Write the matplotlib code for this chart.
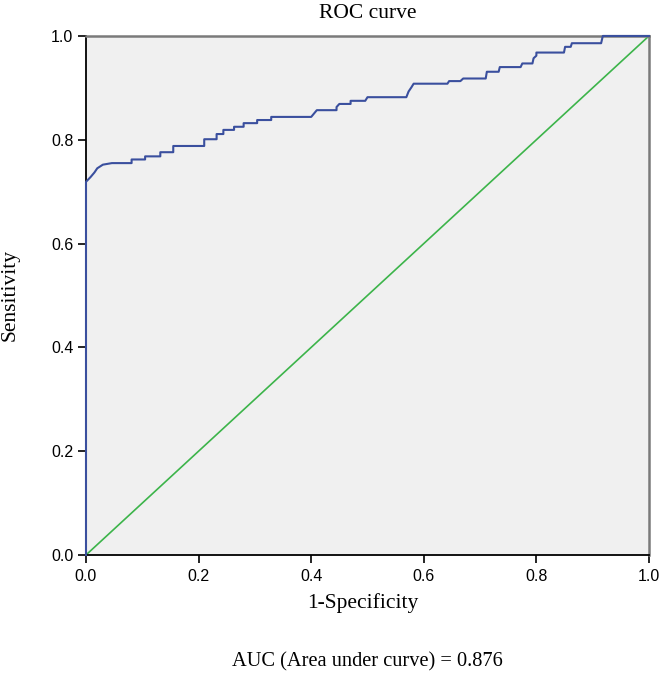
import matplotlib
matplotlib.use("Agg")
import matplotlib.pyplot as plt

# ROC curve corner points
fpr = [0, 0, 0.008, 0.015, 0.02, 0.03, 0.046, 0.081, 0.081, 0.105, 0.105, 0.132, 0.132,
       0.155, 0.155, 0.21, 0.21, 0.232, 0.232, 0.244, 0.244, 0.263, 0.263, 0.28, 0.28,
       0.304, 0.304, 0.329, 0.329, 0.400, 0.41, 0.445, 0.445, 0.45, 0.47, 0.47, 0.496,
       0.50, 0.569, 0.573, 0.578, 0.582, 0.642, 0.645, 0.665, 0.67, 0.710, 0.712, 0.733,
       0.735, 0.772, 0.775, 0.793, 0.795, 0.80, 0.80, 0.849, 0.851, 0.861, 0.863, 0.915,
       0.918, 1.0]
tpr = [0, 0.719, 0.728, 0.737, 0.745, 0.752, 0.755, 0.755, 0.762, 0.762, 0.768, 0.768, 0.776,
       0.776, 0.788, 0.788, 0.801, 0.801, 0.811, 0.811, 0.819, 0.819, 0.825, 0.825, 0.832,
       0.832, 0.838, 0.838, 0.844, 0.844, 0.857, 0.857, 0.863, 0.869, 0.869, 0.875, 0.875,
       0.882, 0.882, 0.893, 0.901, 0.908, 0.908, 0.913, 0.913, 0.918, 0.918, 0.931, 0.931,
       0.940, 0.940, 0.947, 0.947, 0.957, 0.962, 0.968, 0.968, 0.979, 0.979, 0.986, 0.986,
       1.0, 1.0]
ref_line = [0, 1]
ticks = [0.0, 0.2, 0.4, 0.6, 0.8, 1.0]
auc = 0.876

serif = "Liberation Serif"
sans = "Liberation Sans"

fig = plt.figure(figsize=(6.6, 6.86), dpi=100)
ax = fig.add_axes([0.1303, 0.191, 0.853, 0.7566])
ax.set_facecolor("#f0f0f0")

ax.plot(ref_line, ref_line, color="#3cb44a", lw=1.2, zorder=2)
ax.plot(fpr, tpr, color="#3a4f9e", lw=1.5, zorder=3, clip_on=False)

ax.set_xlim(0, 1)
ax.set_ylim(0, 1)
ax.set_xticks(ticks)
ax.set_yticks(ticks)
ax.set_xticklabels([f"{t:.1f}" for t in ticks], fontfamily=sans, fontsize=11.5)
ax.set_yticklabels([f"{t:.1f}" for t in ticks], fontfamily=sans, fontsize=11.5)
ax.tick_params(direction="out", length=6, width=1.2, color="black", pad=3)
ax.tick_params(axis="x", pad=4)

for s in ["left", "bottom"]:
    ax.spines[s].set_color("black")
    ax.spines[s].set_linewidth(1.3)
for s in ["top", "right"]:
    ax.spines[s].set_color("#7a7a7a")
    ax.spines[s].set_linewidth(1.8)

ax.set_ylabel("Sensitivity", fontfamily=serif, fontsize=15.5)
ax.yaxis.set_label_coords(-0.118, 0.5)

fig.text(0.557, 0.981, "ROC curve", fontfamily=serif, fontsize=15.5,
         ha="center", va="center")
fig.text(0.55, 0.121, "1-Specificity", fontfamily=serif, fontsize=15.5,
         ha="center", va="center")
fig.text(0.556, 0.035, f"AUC (Area under curve) = {auc}", fontfamily=serif,
         fontsize=14.7, ha="center", va="center")

fig.savefig("out.png", dpi=100)
